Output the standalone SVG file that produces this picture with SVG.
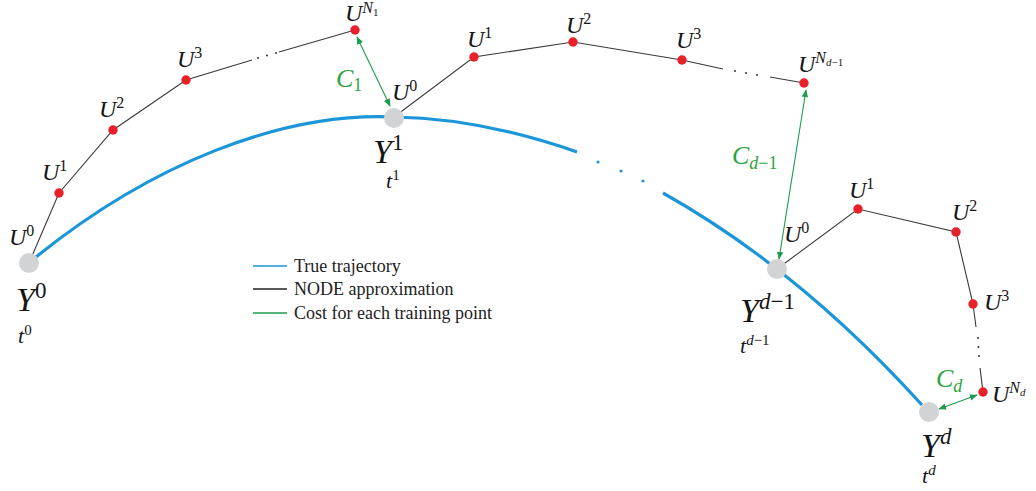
<svg xmlns="http://www.w3.org/2000/svg" width="1036" height="491" viewBox="0 0 1036 491">
<style>
.m{font-style:italic;fill:#151515}
.u{font-size:24px}
.y{font-size:34px}
.t{font-size:22px}
.c{font-size:26px;fill:#2ea23d}
.s{font-style:normal}
.leg{font-size:18px;fill:#222}
.nl{stroke:#3a3a3a;stroke-width:1.1;fill:none}
.tr{stroke:#1b96d8;stroke-width:3.2;fill:none}
.gr{stroke:#1e9c4e;stroke-width:1.1;fill:none;marker-start:url(#ah);marker-end:url(#ah)}
.node{fill:#d2d3d5}
.pt{fill:#e8202a}
.dot{fill:#333}
.bdot{fill:#1b96d8}
</style>
<defs>
<marker id="ah" viewBox="0 0 10 10" refX="9" refY="5" markerWidth="8" markerHeight="8" markerUnits="userSpaceOnUse" orient="auto-start-reverse">
<path d="M0,1 L10,5 L0,9 Z" fill="#1e9c4e"/>
</marker>
</defs>

<g id="trajectory">
<path class="tr" d="M36,257 C150,165 280,112 394,117 C460,118 520,132 577,152"/>
<circle class="bdot" cx="598" cy="162" r="1.6"/>
<circle class="bdot" cx="621" cy="171" r="1.6"/>
<circle class="bdot" cx="643" cy="181" r="1.6"/>
<path class="tr" d="M663,193 Q800,270 922,405"/>
</g>

<g id="connectors">
<polyline class="nl" points="29,263 59,193 113,130 186,80 252,60"/>
<circle class="dot" cx="258" cy="58" r="1"/>
<circle class="dot" cx="267" cy="55.5" r="1"/>
<circle class="dot" cx="276" cy="53" r="1"/>
<polyline class="nl" points="279,52 355,30"/>
<polyline class="nl" points="394,117 474,57 573,42 682,60 723,69"/>
<circle class="dot" cx="735" cy="71" r="1"/>
<circle class="dot" cx="746" cy="73" r="1"/>
<circle class="dot" cx="757" cy="75" r="1"/>
<polyline class="nl" points="770,77 804,83"/>
<polyline class="nl" points="777,269 858,209 956,232 973,304 976,327"/>
<circle class="dot" cx="978" cy="338" r="1"/>
<circle class="dot" cx="978.5" cy="347" r="1"/>
<circle class="dot" cx="979" cy="356" r="1"/>
<polyline class="nl" points="980,368 983,392"/>
<line class="gr" x1="357" y1="37" x2="390" y2="106"/>
<line class="gr" x1="806" y1="90" x2="779" y2="259"/>
<line class="gr" x1="939" y1="409" x2="977" y2="395"/>
</g>

<g id="Y0">
<circle class="node" cx="29" cy="263" r="10"/>
<text font-family="Liberation Serif" class="m u" x="9" y="245">U<tspan class="s" font-size="16" dy="-9">0</tspan></text>
<text font-family="Liberation Serif" class="m y" x="16" y="311">Y<tspan class="s" font-size="23" dy="-13">0</tspan></text>
<text font-family="Liberation Serif" class="m t" x="18" y="343">t<tspan class="s" font-size="15" dy="-8">0</tspan></text>
</g>
<g id="chain1">
<circle class="pt" cx="59" cy="193" r="4.7"/>
<circle class="pt" cx="113" cy="130" r="4.7"/>
<circle class="pt" cx="186" cy="80" r="4.7"/>
<circle class="pt" cx="355" cy="30" r="4.7"/>
<text font-family="Liberation Serif" class="m u" x="42" y="180">U<tspan class="s" font-size="16" dy="-9">1</tspan></text>
<text font-family="Liberation Serif" class="m u" x="99" y="117">U<tspan class="s" font-size="16" dy="-9">2</tspan></text>
<text font-family="Liberation Serif" class="m u" x="177" y="67">U<tspan class="s" font-size="16" dy="-9">3</tspan></text>
<text font-family="Liberation Serif" class="m u" x="345" y="21">U<tspan font-size="16" dy="-8">N</tspan><tspan class="s" font-size="11" dy="3">1</tspan></text>
<text font-family="Liberation Serif" class="m c" x="336" y="87">C<tspan class="s" font-size="18" dy="4">1</tspan></text>
</g>
<g id="Y1">
<circle class="node" cx="394" cy="118" r="10"/>
<text font-family="Liberation Serif" class="m u" x="392" y="100">U<tspan class="s" font-size="16" dy="-9">0</tspan></text>
<text font-family="Liberation Serif" class="m y" x="373" y="163">Y<tspan class="s" font-size="23" dy="-13">1</tspan></text>
<text font-family="Liberation Serif" class="m t" x="386" y="188">t<tspan class="s" font-size="15" dy="-8">1</tspan></text>
</g>
<g id="chain2">
<circle class="pt" cx="474" cy="57" r="4.7"/>
<circle class="pt" cx="573" cy="42" r="4.7"/>
<circle class="pt" cx="682" cy="60" r="4.7"/>
<circle class="pt" cx="804" cy="83" r="4.7"/>
<text font-family="Liberation Serif" class="m u" x="467" y="47">U<tspan class="s" font-size="16" dy="-9">1</tspan></text>
<text font-family="Liberation Serif" class="m u" x="566" y="33">U<tspan class="s" font-size="16" dy="-9">2</tspan></text>
<text font-family="Liberation Serif" class="m u" x="676" y="48">U<tspan class="s" font-size="16" dy="-9">3</tspan></text>
<text font-family="Liberation Serif" class="m u" x="798" y="72">U<tspan font-size="16" dy="-9">N</tspan><tspan font-size="11" dy="3">d</tspan><tspan class="s" font-size="11">−1</tspan></text>
<text font-family="Liberation Serif" class="m c" x="732" y="164">C<tspan font-size="18" dy="5">d</tspan><tspan class="s" font-size="18">−1</tspan></text>
</g>
<g id="Yd-1">
<circle class="node" cx="777" cy="269" r="10"/>
<text font-family="Liberation Serif" class="m u" x="784" y="242">U<tspan class="s" font-size="16" dy="-9">0</tspan></text>
<text font-family="Liberation Serif" class="m y" x="740" y="322">Y<tspan font-size="23" dy="-13">d</tspan><tspan class="s" font-size="23">−1</tspan></text>
<text font-family="Liberation Serif" class="m t" x="740" y="353">t<tspan font-size="15" dy="-8">d</tspan><tspan class="s" font-size="15">−1</tspan></text>
</g>
<g id="chain3">
<circle class="pt" cx="858" cy="209" r="4.7"/>
<circle class="pt" cx="956" cy="232" r="4.7"/>
<circle class="pt" cx="973" cy="304" r="4.7"/>
<circle class="pt" cx="983" cy="392" r="4.7"/>
<text font-family="Liberation Serif" class="m u" x="849" y="198">U<tspan class="s" font-size="16" dy="-9">1</tspan></text>
<text font-family="Liberation Serif" class="m u" x="952" y="220">U<tspan class="s" font-size="16" dy="-9">2</tspan></text>
<text font-family="Liberation Serif" class="m u" x="984" y="310">U<tspan class="s" font-size="16" dy="-9">3</tspan></text>
<text font-family="Liberation Serif" class="m u" x="992" y="402">U<tspan font-size="16" dy="-9">N</tspan><tspan font-size="11" dy="3">d</tspan></text>
<text font-family="Liberation Serif" class="m c" x="936" y="387">C<tspan font-size="18" dy="5">d</tspan></text>
</g>
<g id="Yd">
<circle class="node" cx="929" cy="412" r="10"/>
<text font-family="Liberation Serif" class="m y" x="921" y="457">Y<tspan font-size="23" dy="-13">d</tspan></text>
<text font-family="Liberation Serif" class="m t" x="922" y="483">t<tspan font-size="15" dy="-8">d</tspan></text>
</g>

<g id="legend">
<line x1="253" y1="266" x2="287" y2="266" stroke="#1b96d8" stroke-width="1.6"/>
<line x1="253" y1="289" x2="287" y2="289" stroke="#222" stroke-width="1.6"/>
<line x1="253" y1="313" x2="287" y2="313" stroke="#1e9c4e" stroke-width="1.6"/>
<text font-family="Liberation Serif" class="leg" x="294" y="272">True trajectory</text>
<text font-family="Liberation Serif" class="leg" x="294" y="295">NODE approximation</text>
<text font-family="Liberation Serif" class="leg" x="294" y="319">Cost for each training point</text>
</g>
</svg>
